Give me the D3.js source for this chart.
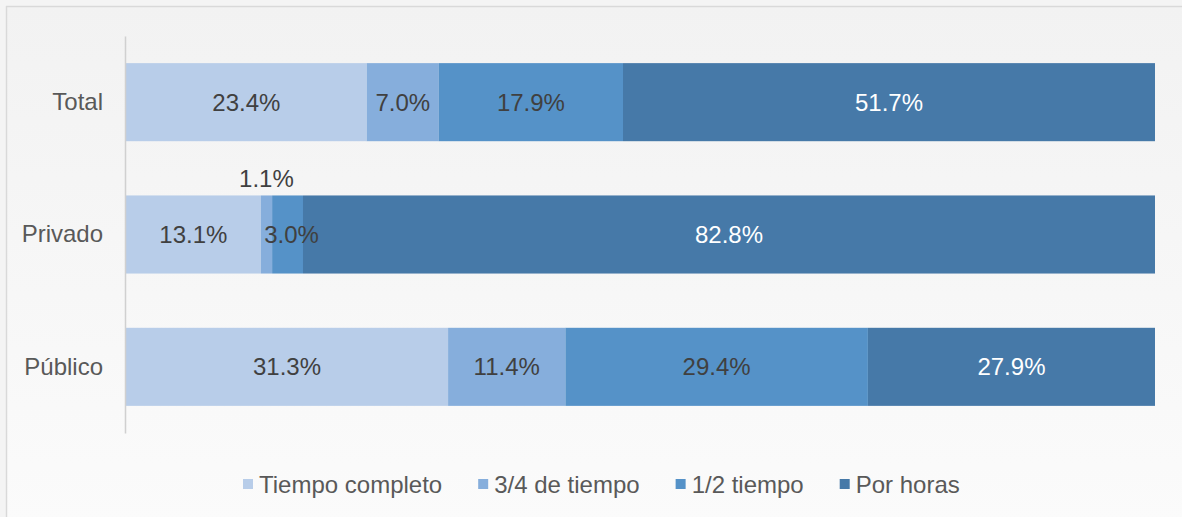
<!DOCTYPE html>
<html>
<head>
<meta charset="utf-8">
<script src="https://cdn.jsdelivr.net/npm/d3@7/dist/d3.min.js"></script>
<style>
  html, body { margin: 0; padding: 0; background: #f4f4f4; }
  svg { display: block; }
  text { font-family: "Liberation Sans", Arial, sans-serif; }
</style>
</head>
<body>
<svg id="chart" width="1182" height="517"></svg>
<script>
const categories = ["Total", "Privado", "Público"];
const seriesNames = ["Tiempo completo", "3/4 de tiempo", "1/2 tiempo", "Por horas"];
const tiempoCompleto = [23.4, 13.1, 31.3];
const tresCuartos = [7.0, 1.1, 11.4];
const medioTiempo = [17.9, 3.0, 29.4];
const porHoras = [51.7, 82.8, 27.9];
const colors = ["#b8cde9", "#86aedc", "#5592c8", "#4679a8"];
const labelColors = ["#404040", "#404040", "#404040", "#ffffff"];

const seriesValues = [tiempoCompleto, tresCuartos, medioTiempo, porHoras];
const rows = categories.map((c, i) => {
  const o = { cat: c };
  seriesNames.forEach((s, j) => o[s] = seriesValues[j][i]);
  return o;
});

const svg = d3.select("#chart");
const W = 1182, H = 517;

const defs = svg.append("defs");
const grad = defs.append("linearGradient").attr("id", "bg").attr("x1", 0).attr("y1", 0).attr("x2", 0).attr("y2", 1);
grad.append("stop").attr("offset", "0%").attr("stop-color", "#f2f2f2");
grad.append("stop").attr("offset", "100%").attr("stop-color", "#fbfbfb");
svg.append("rect").attr("width", W).attr("height", H).attr("fill", "#f4f4f4");
svg.append("rect").attr("x", 6).attr("y", 6).attr("width", W).attr("height", H).attr("fill", "url(#bg)");
svg.append("line").attr("x1", 6).attr("x2", W).attr("y1", 6.5).attr("y2", 6.5).attr("stroke", "#d9d9d9").attr("stroke-width", 1.5);
svg.append("line").attr("x1", 6.5).attr("x2", 6.5).attr("y1", 6).attr("y2", H).attr("stroke", "#d9d9d9").attr("stroke-width", 1.5);

const x = d3.scaleLinear().domain([0, 100]).range([126, 1155]);
const y = d3.scaleBand().domain(categories).range([36, 433]).paddingInner(0.41).paddingOuter(0.205);

const stacked = d3.stack().keys(seriesNames)(rows);

const g = svg.append("g");
stacked.forEach((layer, j) => {
  g.selectAll(null).data(layer).join("rect")
    .attr("x", d => x(d[0]))
    .attr("width", d => x(d[1]) - x(d[0]))
    .attr("y", d => y(d.data.cat))
    .attr("height", y.bandwidth())
    .attr("fill", colors[j]);
});

const yAxis = d3.axisLeft(y).tickSize(0).tickPadding(22);
const ax = svg.append("g").attr("transform", "translate(125,0)").call(yAxis);
ax.select(".domain").attr("stroke", "#d0d0d0").attr("stroke-width", 1.5);
ax.selectAll("text").attr("font-size", 24).attr("fill", "#595959")
  .attr("font-family", '"Liberation Sans", Arial, sans-serif');

stacked.forEach((layer, j) => {
  layer.forEach(d => {
    const v = d[1] - d[0];
    const cx = (x(d[0]) + x(d[1])) / 2;
    const small = v < 2;
    const cy = small ? y(d.data.cat) - 17 : y(d.data.cat) + y.bandwidth() / 2;
    svg.append("text")
      .attr("x", cx + (j === 2 && v < 5 ? 4 : 0))
      .attr("y", cy)
      .attr("dy", "0.36em")
      .attr("text-anchor", "middle")
      .attr("font-size", 24)
      .attr("fill", small ? "#404040" : labelColors[j])
      .text(v.toFixed(1) + "%");
  });
});

const lg = svg.append("g");
let lx = 243;
seriesNames.forEach((s, j) => {
  lg.append("rect").attr("x", lx).attr("y", 479).attr("width", 10).attr("height", 10).attr("fill", colors[j]);
  const t = lg.append("text").attr("x", lx + 16).attr("y", 484).attr("dy", "0.36em")
    .attr("font-size", 24).attr("fill", "#595959").text(s);
  lx += 16 + t.node().getComputedTextLength() + 36;
});
</script>
</body>
</html>
